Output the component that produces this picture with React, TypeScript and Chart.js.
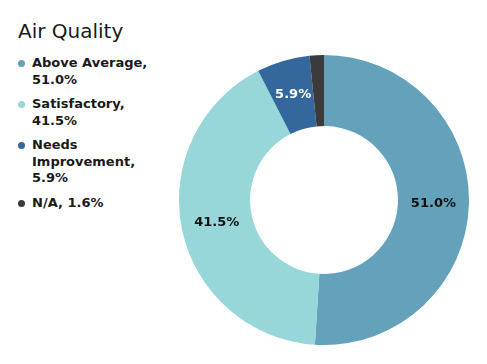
import React, { useEffect, useRef } from "react";
import { Chart, registerables } from "chart.js";

Chart.register(...registerables);

const title = "Air Quality";
const categories = ["Above Average", "Satisfactory", "Needs Improvement", "N/A"];
const values = [51.0, 41.5, 5.9, 1.6];
const colors = ["#64a2bc", "#98d7d9", "#34679b", "#3b3b3b"];
const labelColors = ["#111111", "#111111", "#ffffff", "#ffffff"];
const showLabel = [true, true, true, false];

const FONT = "'DejaVu Sans', Verdana, sans-serif";

const labelPlugin = {
  id: "sliceLabels",
  afterDatasetsDraw(chart: any) {
    const ctx = chart.ctx;
    const meta = chart.getDatasetMeta(0);
    ctx.save();
    ctx.font = `bold 13px ${FONT}`;
    ctx.textAlign = "center";
    ctx.textBaseline = "middle";
    meta.data.forEach((arc: any, i: number) => {
      if (!showLabel[i]) return;
      const p = arc.tooltipPosition();
      ctx.fillStyle = labelColors[i];
      ctx.fillText(values[i].toFixed(1) + "%", p.x, p.y);
    });
    ctx.restore();
  },
};

export default function App() {
  const ref = useRef<HTMLCanvasElement | null>(null);
  useEffect(() => {
    if (!ref.current) return;
    const chart = new Chart(ref.current, {
      type: "doughnut",
      data: {
        labels: categories,
        datasets: [
          {
            data: values,
            backgroundColor: colors,
            borderWidth: 0,
          },
        ],
      },
      options: {
        animation: false,
        responsive: false,
        maintainAspectRatio: false,
        cutout: "51%",
        layout: { padding: 0 },
        plugins: {
          legend: { display: false },
          tooltip: { enabled: false },
          title: { display: false },
        },
      },
      plugins: [labelPlugin],
    });
    return () => chart.destroy();
  }, []);

  return (
    <div
      style={{
        position: "absolute",
        left: 0,
        top: 0,
        width: 487,
        height: 364,
        background: "#ffffff",
        fontFamily: FONT,
        overflow: "hidden",
      }}
    >
      <div
        style={{
          position: "absolute",
          left: 18,
          top: 19,
          fontSize: 20,
          lineHeight: "24px",
          color: "#1a1a1a",
          whiteSpace: "nowrap",
        }}
      >
        {title}
      </div>
      <div style={{ position: "absolute", left: 32, top: 55, width: 128 }}>
        {categories.map((c, i) => (
          <div
            key={c}
            style={{
              position: "relative",
              fontSize: 13,
              fontWeight: "bold",
              lineHeight: "16.5px",
              color: "#1a1a1a",
              marginBottom: 8,
            }}
          >
            <span
              style={{
                position: "absolute",
                left: -14,
                top: 5,
                width: 7,
                height: 7,
                borderRadius: "50%",
                background: colors[i],
              }}
            />
            {`${c}, ${values[i].toFixed(1)}%`}
          </div>
        ))}
      </div>
      <div style={{ position: "absolute", left: 179, top: 55, width: 290, height: 290 }}>
        <canvas ref={ref} width={290} height={290} style={{ width: 290, height: 290 }} />
      </div>
    </div>
  );
}
